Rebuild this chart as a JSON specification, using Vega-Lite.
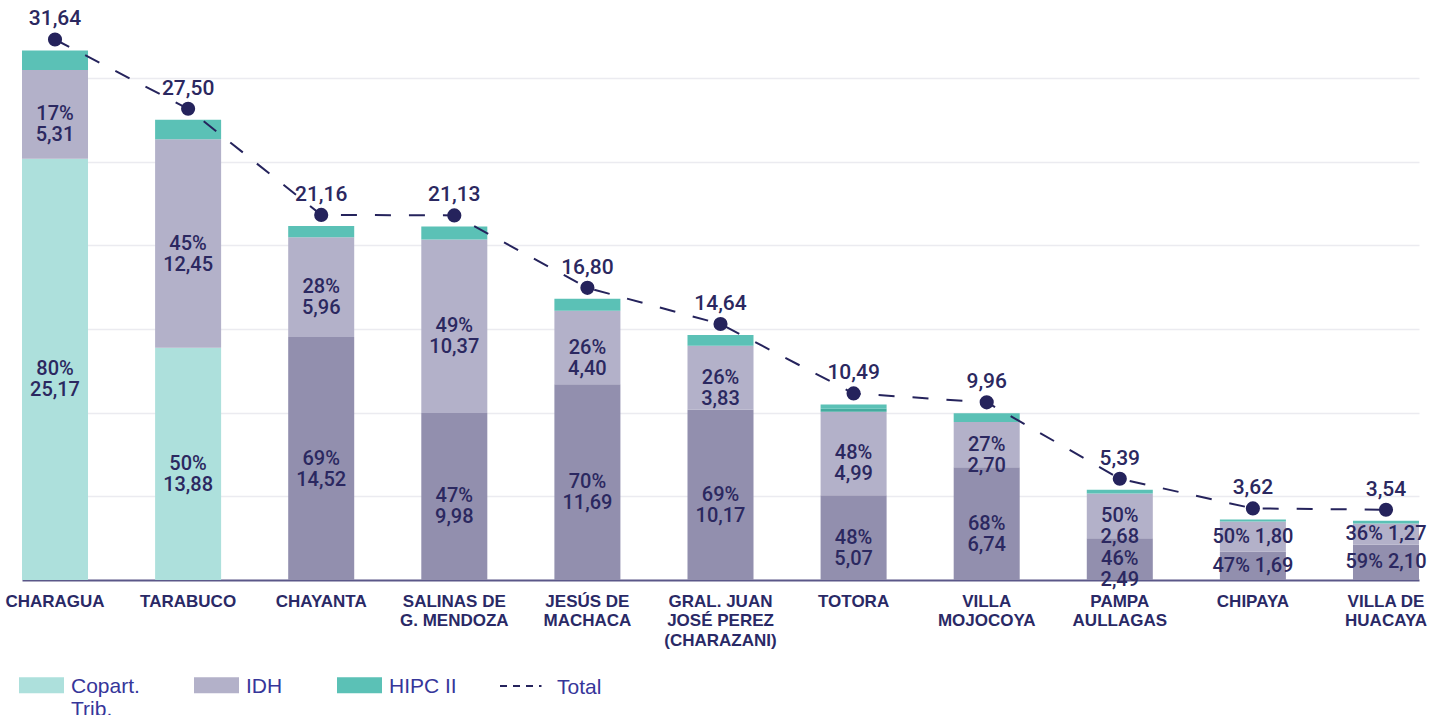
{
  "$schema": "https://vega.github.io/schema/vega-lite/v6.json",
  "width": 1397,
  "height": 569,
  "autosize": {"type": "none"},
  "padding": {"left": 22, "top": 11, "right": 21, "bottom": 135},
  "background": "white",
  "config": {"view": {"stroke": null}, "font": "Liberation Sans"},
  "datasets": {
    "barras": [
      {"m": "CHARAGUA", "serie": "Copart. Trib.", "valor": 25.17, "etiqueta": "80%\n25,17"},
      {"m": "CHARAGUA", "serie": "IDH", "valor": 5.31, "etiqueta": "17%\n5,31"},
      {"m": "CHARAGUA", "serie": "HIPC II", "valor": 1.16, "etiqueta": ""},
      {"m": "TARABUCO", "serie": "Copart. Trib.", "valor": 13.88, "etiqueta": "50%\n13,88"},
      {"m": "TARABUCO", "serie": "IDH", "valor": 12.45, "etiqueta": "45%\n12,45"},
      {"m": "TARABUCO", "serie": "HIPC II", "valor": 1.17, "etiqueta": ""},
      {"m": "CHAYANTA", "serie": "Otros", "valor": 14.52, "etiqueta": "69%\n14,52"},
      {"m": "CHAYANTA", "serie": "IDH", "valor": 5.96, "etiqueta": "28%\n5,96"},
      {"m": "CHAYANTA", "serie": "HIPC II", "valor": 0.68, "etiqueta": ""},
      {"m": "SALINAS DE G. MENDOZA", "serie": "Otros", "valor": 9.98, "etiqueta": "47%\n9,98"},
      {"m": "SALINAS DE G. MENDOZA", "serie": "IDH", "valor": 10.37, "etiqueta": "49%\n10,37"},
      {"m": "SALINAS DE G. MENDOZA", "serie": "HIPC II", "valor": 0.78, "etiqueta": ""},
      {"m": "JESÚS DE MACHACA", "serie": "Otros", "valor": 11.69, "etiqueta": "70%\n11,69"},
      {"m": "JESÚS DE MACHACA", "serie": "IDH", "valor": 4.40, "etiqueta": "26%\n4,40"},
      {"m": "JESÚS DE MACHACA", "serie": "HIPC II", "valor": 0.71, "etiqueta": ""},
      {"m": "GRAL. JUAN JOSÉ PEREZ (CHARAZANI)", "serie": "Otros", "valor": 10.17, "etiqueta": "69%\n10,17"},
      {"m": "GRAL. JUAN JOSÉ PEREZ (CHARAZANI)", "serie": "IDH", "valor": 3.83, "etiqueta": "26%\n3,83"},
      {"m": "GRAL. JUAN JOSÉ PEREZ (CHARAZANI)", "serie": "HIPC II", "valor": 0.64, "etiqueta": ""},
      {"m": "TOTORA", "serie": "Otros", "valor": 5.07, "etiqueta": "48%\n5,07"},
      {"m": "TOTORA", "serie": "IDH", "valor": 4.99, "etiqueta": "48%\n4,99"},
      {"m": "TOTORA", "serie": "Otros HIPC", "valor": 0.18, "etiqueta": ""},
      {"m": "TOTORA", "serie": "HIPC II", "valor": 0.25, "etiqueta": ""},
      {"m": "VILLA MOJOCOYA", "serie": "Otros", "valor": 6.74, "etiqueta": "68%\n6,74"},
      {"m": "VILLA MOJOCOYA", "serie": "IDH", "valor": 2.70, "etiqueta": "27%\n2,70"},
      {"m": "VILLA MOJOCOYA", "serie": "HIPC II", "valor": 0.52, "etiqueta": ""},
      {"m": "PAMPA AULLAGAS", "serie": "Otros", "valor": 2.49, "etiqueta": "46%\n2,49"},
      {"m": "PAMPA AULLAGAS", "serie": "IDH", "valor": 2.68, "etiqueta": "50%\n2,68"},
      {"m": "PAMPA AULLAGAS", "serie": "HIPC II", "valor": 0.22, "etiqueta": ""},
      {"m": "CHIPAYA", "serie": "Otros", "valor": 1.69, "etiqueta": "47% 1,69"},
      {"m": "CHIPAYA", "serie": "IDH", "valor": 1.80, "etiqueta": "50% 1,80"},
      {"m": "CHIPAYA", "serie": "HIPC II", "valor": 0.13, "etiqueta": ""},
      {"m": "VILLA DE HUACAYA", "serie": "Otros", "valor": 2.10, "etiqueta": "59% 2,10"},
      {"m": "VILLA DE HUACAYA", "serie": "IDH", "valor": 1.27, "etiqueta": "36% 1,27"},
      {"m": "VILLA DE HUACAYA", "serie": "HIPC II", "valor": 0.17, "etiqueta": ""}
    ],
    "totales": [
      {"m": "CHARAGUA", "total": 31.64, "t": "31,64"},
      {"m": "TARABUCO", "total": 27.50, "t": "27,50"},
      {"m": "CHAYANTA", "total": 21.16, "t": "21,16"},
      {"m": "SALINAS DE G. MENDOZA", "total": 21.13, "t": "21,13"},
      {"m": "JESÚS DE MACHACA", "total": 16.80, "t": "16,80"},
      {"m": "GRAL. JUAN JOSÉ PEREZ (CHARAZANI)", "total": 14.64, "t": "14,64"},
      {"m": "TOTORA", "total": 10.49, "t": "10,49"},
      {"m": "VILLA MOJOCOYA", "total": 9.96, "t": "9,96"},
      {"m": "PAMPA AULLAGAS", "total": 5.39, "t": "5,39"},
      {"m": "CHIPAYA", "total": 3.62, "t": "3,62"},
      {"m": "VILLA DE HUACAYA", "total": 3.54, "t": "3,54"}
    ]
  },
  "encoding": {
    "x": {
      "field": "m",
      "type": "nominal",
      "title": null,
      "scale": {
        "domain": ["CHARAGUA", "TARABUCO", "CHAYANTA", "SALINAS DE G. MENDOZA", "JESÚS DE MACHACA", "GRAL. JUAN JOSÉ PEREZ (CHARAZANI)", "TOTORA", "VILLA MOJOCOYA", "PAMPA AULLAGAS", "CHIPAYA", "VILLA DE HUACAYA"],
        "paddingInner": 0.504,
        "paddingOuter": 0
      },
      "axis": {
        "labelAngle": 0,
        "ticks": false,
        "domainColor": "#5a5788",
        "domainWidth": 2,
        "labelFont": "Liberation Sans",
        "labelFontWeight": "bold",
        "labelFontSize": 17,
        "labelColor": "#2a2966",
        "labelPadding": 13,
        "labelLineHeight": 19.5,
        "labelLimit": 300,
        "labelBaseline": "top",
        "labelExpr": "datum.value == 'SALINAS DE G. MENDOZA' ? ['SALINAS DE', 'G. MENDOZA'] : datum.value == 'JESÚS DE MACHACA' ? ['JESÚS DE', 'MACHACA'] : datum.value == 'GRAL. JUAN JOSÉ PEREZ (CHARAZANI)' ? ['GRAL. JUAN', 'JOSÉ PEREZ', '(CHARAZANI)'] : datum.value == 'VILLA MOJOCOYA' ? ['VILLA', 'MOJOCOYA'] : datum.value == 'PAMPA AULLAGAS' ? ['PAMPA', 'AULLAGAS'] : datum.value == 'VILLA DE HUACAYA' ? ['VILLA DE', 'HUACAYA'] : datum.label"
      }
    }
  },
  "layer": [
    {
      "data": {"name": "barras"},
      "transform": [{"stack": "valor", "groupby": ["m"], "as": ["y0", "y1"]}],
      "mark": {"type": "bar"},
      "encoding": {
        "y": {
          "field": "y0",
          "type": "quantitative",
          "title": null,
          "scale": {"domain": [0, 34], "nice": false, "zero": true},
          "axis": {"values": [5, 10, 15, 20, 25, 30], "grid": true, "labels": false, "ticks": false, "domain": false, "title": null, "gridColor": "#ebebf0", "gridWidth": 1.5}
        },
        "y2": {"field": "y1"},
        "color": {
          "field": "serie",
          "type": "nominal",
          "scale": {
            "domain": ["Copart. Trib.", "IDH", "HIPC II", "Otros", "Otros HIPC"],
            "range": ["#ade0dc", "#b3b1c9", "#5bc1b6", "#928fae", "#44ab9f"]
          },
          "legend": {
            "orient": "none",
            "legendX": -3,
            "legendY": 651.5,
            "direction": "horizontal",
            "title": null,
            "values": ["Copart. Trib.", "IDH", "HIPC II"],
            "symbolType": "M-1,-0.36H1V0.36H-1Z",
            "symbolSize": 2025,
            "symbolStrokeWidth": 0,
            "symbolOpacity": 1,
            "labelFont": "Liberation Sans",
            "labelFontSize": 21,
            "labelLineHeight": 21,
            "labelColor": "#36369a",
            "labelOffset": 7,
            "columnPadding": 54,
            "labelLimit": 200,
            "labelBaseline": "top",
            "labelExpr": "datum.label == 'Copart. Trib.' ? ['Copart.', 'Trib.'] : [datum.label, '']",
            "encode": {"labels": {"update": {"dy": {"value": -9}}}}
          }
        }
      }
    },
    {
      "data": {"name": "barras"},
      "transform": [
        {"stack": "valor", "groupby": ["m"], "as": ["y0", "y1"]},
        {"calculate": "(datum.y0 + datum.y1) / 2", "as": "ym"},
        {"filter": "datum.etiqueta != ''"}
      ],
      "mark": {"type": "text", "fontSize": 20, "fontWeight": 500, "color": "#2b2860", "lineBreak": "\n", "lineHeight": 21, "baseline": "middle", "align": "center", "font": "Roboto"},
      "encoding": {
        "y": {"field": "ym", "type": "quantitative", "title": null},
        "text": {"field": "etiqueta"}
      }
    },
    {
      "data": {"name": "totales"},
      "mark": {"type": "line", "color": "#25235c", "strokeWidth": 2, "yOffset": -11},
      "encoding": {
        "y": {"field": "total", "type": "quantitative", "title": null},
        "strokeDash": {
          "datum": "Total",
          "type": "nominal",
          "scale": {"range": [[16, 18]]},
          "legend": {
            "orient": "none",
            "legendX": 477,
            "legendY": 652.5,
            "title": null,
            "symbolType": "M-1,0H-0.674M-0.395,0H-0.07M0.21,0H0.535M0.814,0H0.93",
            "symbolSize": 1849,
            "symbolStrokeWidth": 2,
            "symbolStrokeColor": "#25235c",
            "labelFont": "Liberation Sans",
            "labelFontSize": 21,
            "labelLineHeight": 21,
            "labelColor": "#36369a",
            "labelOffset": 13,
            "labelBaseline": "top",
            "labelExpr": "[datum.label, '']",
            "encode": {"labels": {"update": {"dy": {"value": -9}}}}
          }
        }
      }
    },
    {
      "data": {"name": "totales"},
      "mark": {"type": "circle", "color": "#25235c", "opacity": 1, "size": 200, "yOffset": -11},
      "encoding": {
        "y": {"field": "total", "type": "quantitative", "title": null}
      }
    },
    {
      "data": {"name": "totales"},
      "mark": {"type": "text", "fontSize": 21, "fontWeight": 500, "color": "#2b2860", "baseline": "middle", "align": "center", "yOffset": -31, "font": "Roboto"},
      "encoding": {
        "y": {"field": "total", "type": "quantitative", "title": null},
        "text": {"field": "t"}
      }
    }
  ]
}
